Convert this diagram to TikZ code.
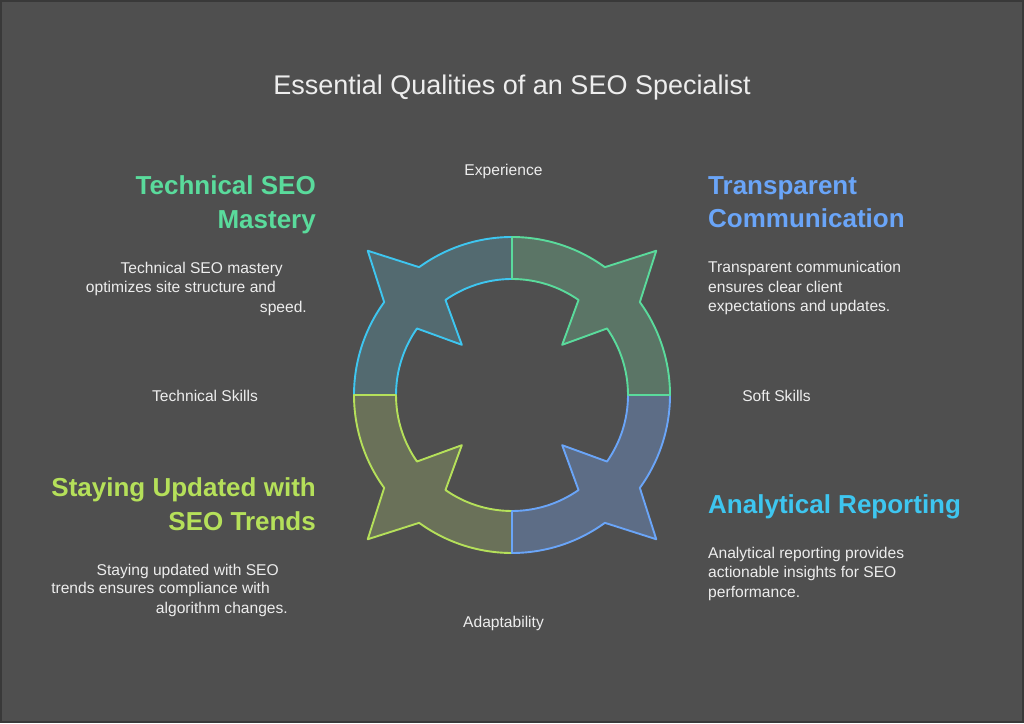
\documentclass[tikz,border=0pt]{standalone}
\usepackage{fontspec}
\setmainfont{Liberation Sans}
\definecolor{bg}{HTML}{4F4F4F}
\definecolor{frame}{HTML}{393939}
\definecolor{txt}{HTML}{EDEDED}
\definecolor{cyanS}{HTML}{3EC6F0}
\definecolor{cyanF}{HTML}{536A70}
\definecolor{greenS}{HTML}{5ADB9C}
\definecolor{greenF}{HTML}{5B7566}
\definecolor{blueS}{HTML}{6AA5F8}
\definecolor{blueF}{HTML}{5D6D86}
\definecolor{limeS}{HTML}{B5E05A}
\definecolor{limeF}{HTML}{6A7159}
\tikzset{
  titletext/.style={inner sep=0pt, anchor=base, text=txt, font=\fontsize{27}{32}\selectfont},
  bodytext/.style={inner sep=0pt, text=txt, font=\fontsize{15.6}{19}\selectfont},
  headtext/.style={inner sep=0pt, font=\fontsize{26}{30}\selectfont\bfseries},
  seg/.style={line width=1.9pt, line join=round},
}
\begin{document}
\begin{tikzpicture}[x=1pt,y=1pt]
\useasboundingbox (0,0) rectangle (1024,723);
\fill[bg] (0,0) rectangle (1024,723);
\draw[frame, line width=2pt] (1,1) rectangle (1023,722);

% ring of four double-headed quadrant segments
\begin{scope}[shift={(512,328)}]
\def\R{158}\def\r{116}
\foreach \a/\sc/\fc in {90/cyanS/cyanF, 180/limeS/limeF, 270/blueS/blueF, 0/greenS/greenF}{
  \pgfmathsetmacro\m{\a+45}
  \pgfmathsetmacro\b{\a+90}
  \filldraw[seg, draw=\sc, fill=\fc]
    (\a:\R) arc[start angle=\a, end angle={\m-9}, radius=\R]
    -- (\m:204) -- ({\m+9}:\R)
    arc[start angle={\m+9}, end angle=\b, radius=\R]
    -- (\b:\r)
    arc[start angle=\b, end angle={\m+10}, radius=\r]
    -- (\m:71) -- ({\m-10}:\r)
    arc[start angle={\m-10}, end angle=\a, radius=\r]
    -- cycle;
}
\end{scope}

% title
\node[titletext] (title) at (512,628) {Essential Qualities of an SEO Specialist};

% axis labels
\node[bodytext, anchor=base] (exp) at (503.5,547) {Experience};
\node[bodytext, anchor=base] (tech) at (205,321.5) {Technical Skills};
\node[bodytext, anchor=base] (soft) at (776.5,321.5) {Soft Skills};
\node[bodytext, anchor=base] (adapt) at (503.5,95.5) {Adaptability};

% headings
\node[headtext, text=greenS, anchor=base east] (h1a) at (316,528) {Technical SEO};
\node[headtext, text=greenS, anchor=base east] (h1b) at (316,494.5) {Mastery};
\node[headtext, text=blueS, anchor=base west] (h2a) at (708,528) {Transparent};
\node[headtext, text=blueS, anchor=base west] (h2b) at (708,495) {Communication};
\node[headtext, text=limeS, anchor=base east] (h3a) at (316,227) {Staying Updated with};
\node[headtext, text=limeS, anchor=base east] (h3b) at (316,193) {SEO Trends};
\node[headtext, text=cyanS, anchor=base west] (h4) at (708,210) {Analytical Reporting};

% descriptions
\node[bodytext, anchor=base east] (d1a) at (283,449.7) {Technical SEO mastery};
\node[bodytext, anchor=base east] (d1b) at (276,430.3) {optimizes site structure and};
\node[bodytext, anchor=base east] (d1c) at (307,410.3) {speed.};

\node[bodytext, anchor=base west] (d2a) at (708,450) {Transparent communication};
\node[bodytext, anchor=base west] (d2b) at (708,430.5) {ensures clear client};
\node[bodytext, anchor=base west] (d2c) at (708,411) {expectations and updates.};

\node[bodytext, anchor=base east] (d3a) at (279,148) {Staying updated with SEO};
\node[bodytext, anchor=base east] (d3b) at (270,129.7) {trends ensures compliance with};
\node[bodytext, anchor=base east] (d3c) at (288,110) {algorithm changes.};

\node[bodytext, anchor=base west] (d4a) at (708,165) {Analytical reporting provides};
\node[bodytext, anchor=base west] (d4b) at (708,145.5) {actionable insights for SEO};
\node[bodytext, anchor=base west] (d4c) at (708,126) {performance.};
\end{tikzpicture}
\end{document}
